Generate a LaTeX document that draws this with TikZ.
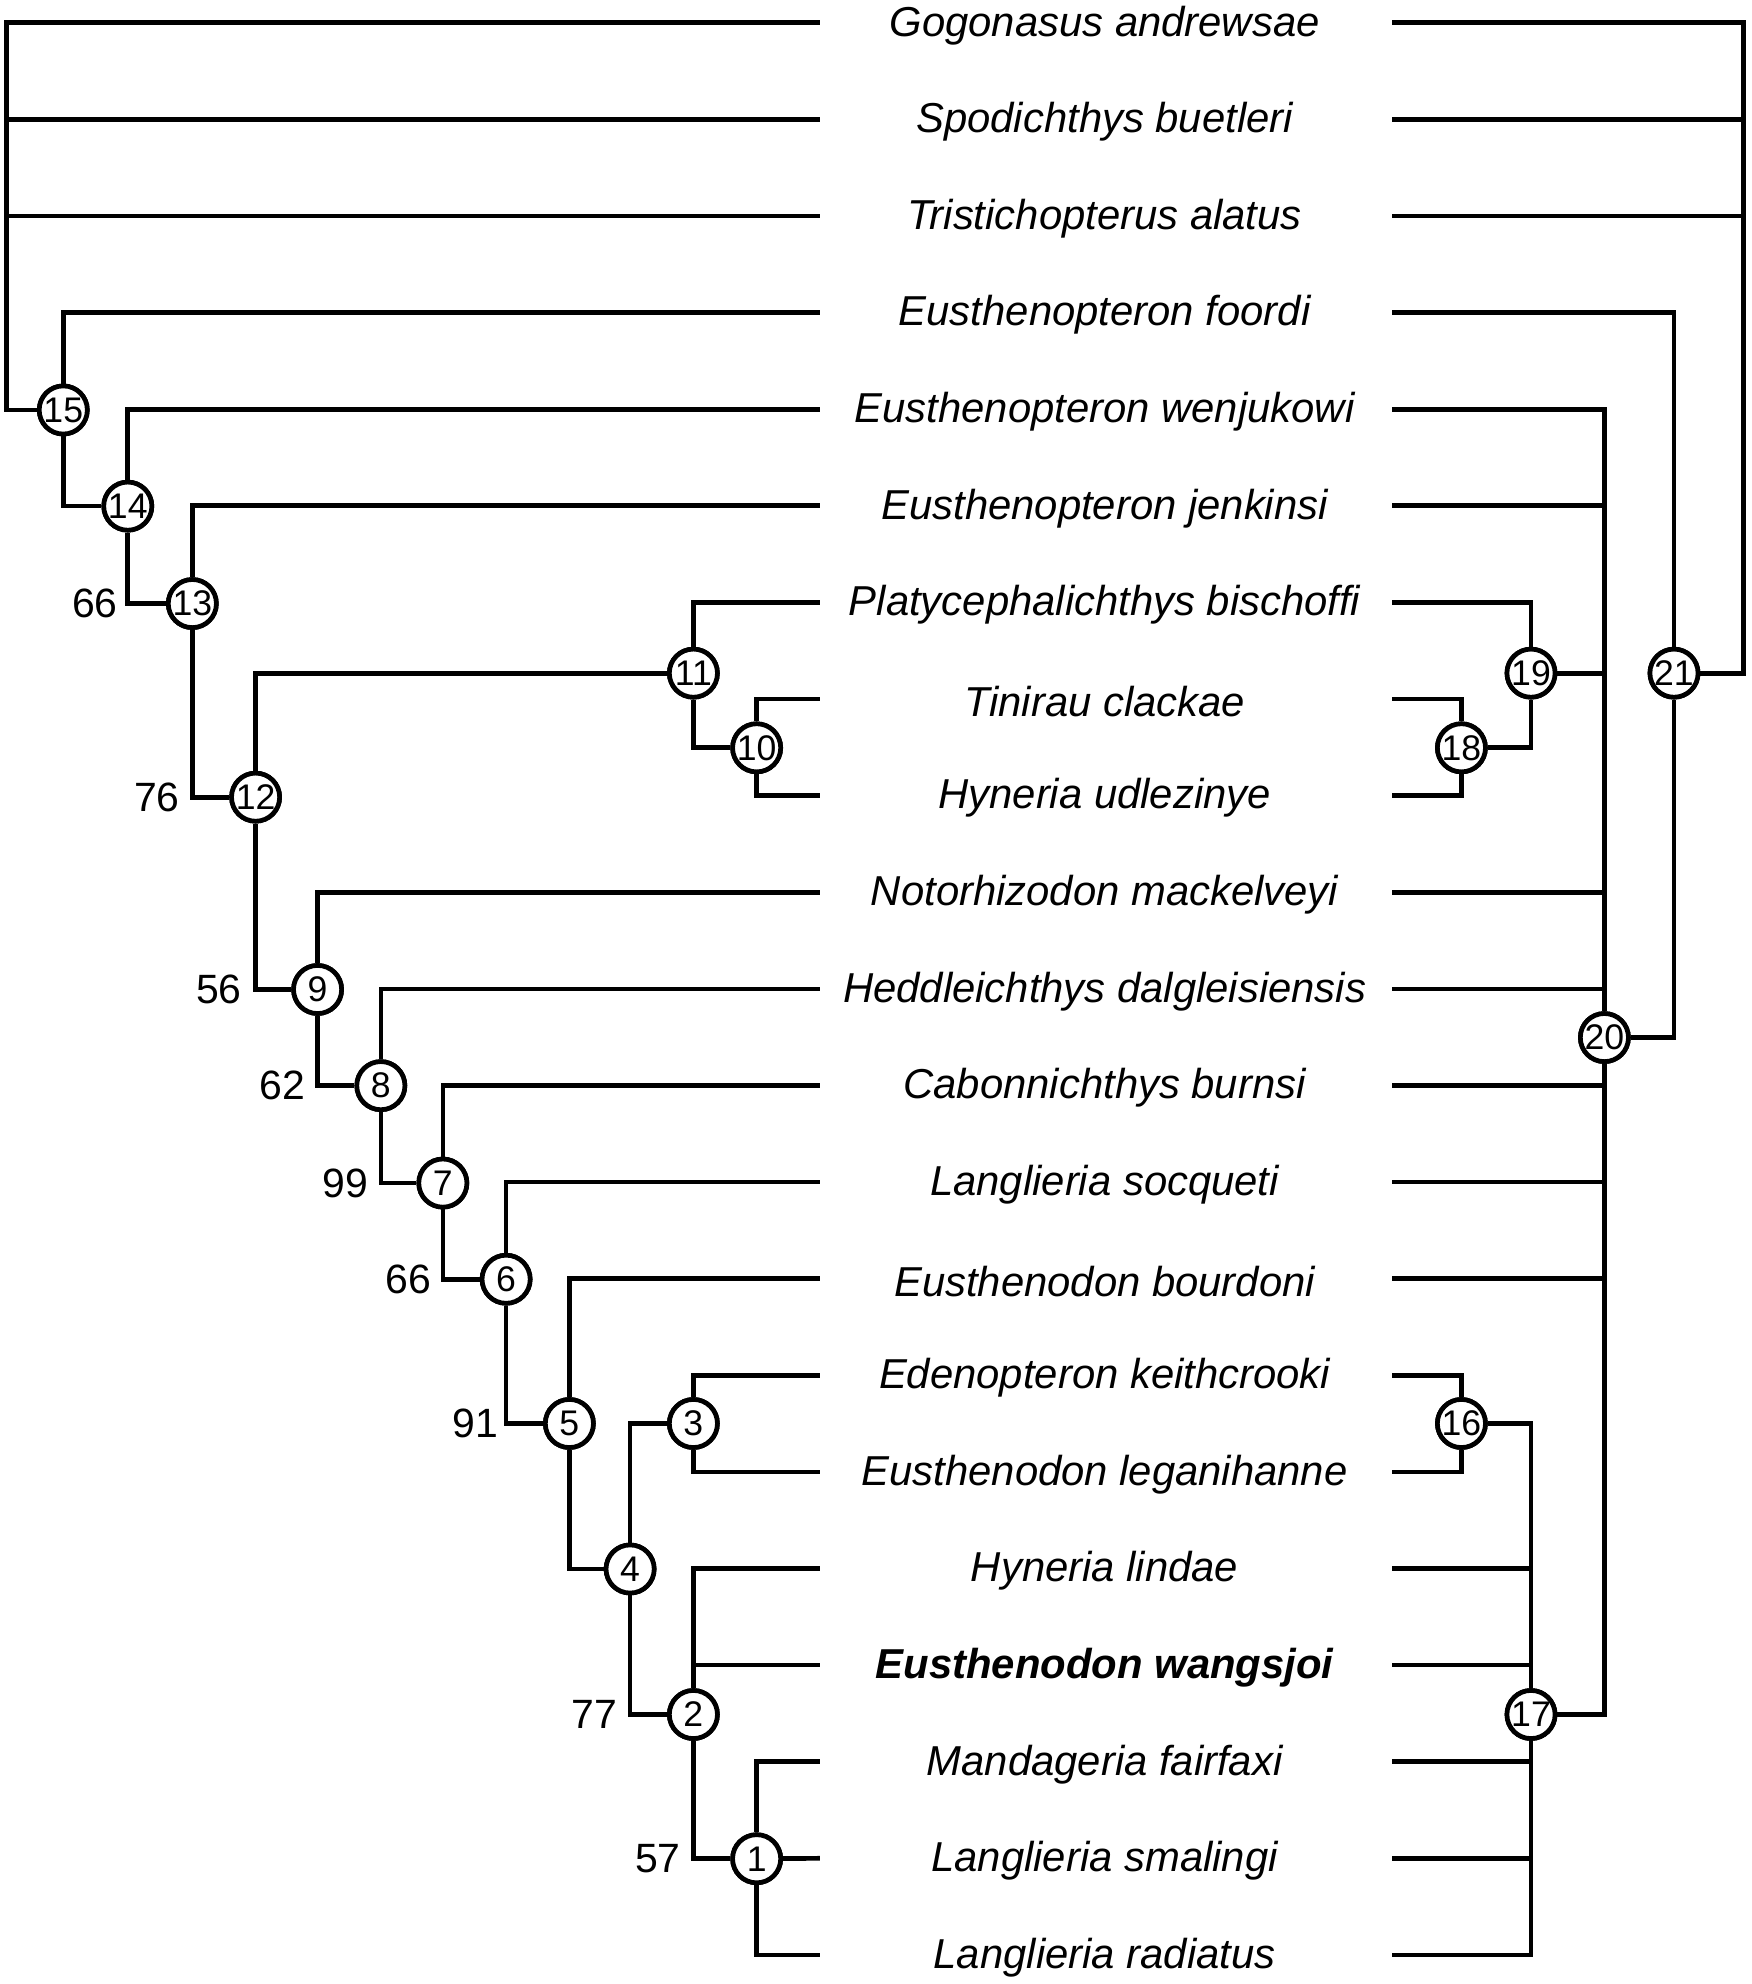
\documentclass[tikz,border=0pt]{standalone}
\usepackage{fontspec}
\setmainfont{Liberation Sans}
\usetikzlibrary{positioning}

\begin{document}
\begin{tikzpicture}[x=0.01cm, y=-0.01cm,
    line width=1.05pt,
    ]
% -------------------------------------------------
% Styles for the tree
\tikzset{
  taxon/.style={font={\fontsize{9.4}{11}\selectfont\itshape}},
  clade/.style={circle, draw, fill=white, minimum size=0.38cm, inner sep=0pt,
                font={\fontsize{8}{9}\selectfont}},
  supp/.style={font={\fontsize{9.2}{11}\selectfont}},
  br/.style={draw}
}
\useasboundingbox (0,0) rectangle (1384,1568);
% -------------------------------------------------
% Taxa, with the free ends of their branches
\foreach \i/\name in {1/Gogonasus andrewsae, 2/Spodichthys buetleri,
    3/Tristichopterus alatus, 4/Eusthenopteron foordi,
    5/Eusthenopteron wenjukowi, 6/Eusthenopteron jenkinsi,
    7/Platycephalichthys bischoffi, 8/Tinirau clackae,
    9/Hyneria udlezinye, 10/Notorhizodon mackelveyi,
    11/Heddleichthys dalgleisiensis, 12/Cabonnichthys burnsi,
    13/Langlieria socqueti, 14/Eusthenodon bourdoni,
    15/Edenopteron keithcrooki, 16/Eusthenodon leganihanne,
    17/Hyneria lindae, 18/{\bfseries Eusthenodon wangsjoi},
    19/Mandageria fairfaxi, 20/Langlieria smalingi,
    21/Langlieria radiatus}{
  \node [taxon] (t\i) at (873,{20+76.35*(\i-1)}) {\name};
  \coordinate (l\i) at (648,{18+76.35*(\i-1)});
  \coordinate (r\i) at (1100,{18+76.35*(\i-1)});
}
% -------------------------------------------------
% Left tree
\foreach \n/\x/\y in {15/50/324, 14/101/400, 13/152/477, 12/202/630,
    11/548/532, 10/598/591, 9/251/782, 8/301/858, 7/350/935, 6/400/1011,
    5/450/1125, 4/498/1240, 3/548/1125, 2/548/1355, 1/598/1469}
  \node [clade] (n\n) at (\x,\y) {\n};
% Right tree
\foreach \n/\x/\y in {21/1323/532, 20/1268/820, 19/1210/532, 18/1155/591,
    17/1210/1355, 16/1155/1125}
  \node [clade] (n\n) at (\x,\y) {\n};
\coordinate (rootL) at (5,324);
\coordinate (rootR) at (1378,532);

\draw (n15) -- (rootL) |- (l1);
\draw (rootL) |- (l2);
\draw (rootL) |- (l3);
\draw (n15) |- (l4);  \draw (n15) |- (n14);
\draw (n14) |- (l5);  \draw (n14) |- (n13);
\draw (n13) |- (l6);  \draw (n13) |- (n12);
\draw (n12) |- (n11); \draw (n12) |- (n9);
\draw (n11) |- (l7);  \draw (n11) |- (n10);
\draw (n10) |- (l8);  \draw (n10) |- (l9);
\draw (n9) |- (l10);  \draw (n9) |- (n8);
\draw (n8) |- (l11);  \draw (n8) |- (n7);
\draw (n7) |- (l12);  \draw (n7) |- (n6);
\draw (n6) |- (l13);  \draw (n6) |- (n5);
\draw (n5) |- (l14);  \draw (n5) |- (n4);
\draw (n4) |- (n3);   \draw (n4) |- (n2);
\draw (n3) |- (l15);  \draw (n3) |- (l16);
\draw (n2) |- (l17);  \draw (n2) |- (l18);  \draw (n2) |- (n1);
\draw (n1) |- (l19);  \draw (n1) -- (l20);  \draw (n1) |- (l21);
% right side
\draw (n21) -- (rootR) |- (r1);
\draw (rootR) |- (r2);
\draw (rootR) |- (r3);
\draw (n21) |- (r4);  \draw (n21) |- (n20);
\foreach \k in {5,6,10,11,12,13,14} \draw (n20) |- (r\k);
\draw (n20) |- (n19); \draw (n20) |- (n17);
\draw (n19) |- (r7);  \draw (n19) |- (n18);
\draw (n18) |- (r8);  \draw (n18) |- (r9);
\draw (n17) |- (n16);
\foreach \k in {17,...,21} \draw (n17) |- (r\k);
\draw (n16) |- (r15); \draw (n16) |- (r16);
% redraw the circles on top of the branches
\foreach \n in {1,...,21} \node [clade] at (n\n) {\n};
% -------------------------------------------------
% Support values
\foreach \v/\x/\y in {66/75/477, 76/124/630, 56/173/782, 62/223/858,
    99/273/935, 66/323/1011, 91/376/1125, 77/470/1355, 57/520/1469}
  \node [supp] (s\x) at (\x,\y) {\v};
\end{tikzpicture}
\end{document}
